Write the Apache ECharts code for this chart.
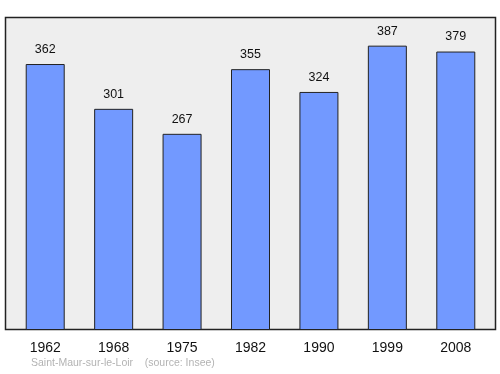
<!DOCTYPE html>
<html><head><meta charset="utf-8">
<script src="https://cdn.jsdelivr.net/npm/echarts@6/dist/echarts.min.js"></script>
<style>html,body{margin:0;padding:0;background:#fff}#c{width:500px;height:374px}</style>
</head><body><div id="c"></div>
<script>
const years = ['1962','1968','1975','1982','1990','1999','2008'];
const population = [362, 301, 267, 355, 324, 387, 379];
const sourceText = 'Saint-Maur-sur-le-Loir    (source: Insee)';

const chart = echarts.init(document.getElementById('c'));
chart.setOption({
  animation: false,
  graphic: [
    {type:'rect', z:-10, shape:{x:5.5, y:17.5, width:490, height:312},
     style:{fill:'#eeeeee', stroke:'#222', lineWidth:1.5}},
    {type:'text', left:31, top:358, style:{text:sourceText, fill:'#b3b3b3', font:'10.5px "Liberation Sans", Arial, sans-serif'}}
  ],
  grid: {left:11, right:10, top:17, bottom:44},
  xAxis: {type:'category', data: years,
    axisLine:{show:false}, axisTick:{show:false},
    axisLabel:{color:'#111', fontSize:14, fontFamily:'Liberation Sans, Arial, sans-serif', margin:11}},
  yAxis: {type:'value', min:0, max:426, show:false, splitLine:{show:false}},
  series: [{
    type:'bar', data: population, barWidth:39,
    itemStyle:{color:'#7299ff', borderColor:'#222', borderWidth:1},
    label:{show:true, position:'top', distance:8, color:'#111', fontSize:12.5,
      fontFamily:'Liberation Sans, Arial, sans-serif'}
  }]
});
</script></body></html>
